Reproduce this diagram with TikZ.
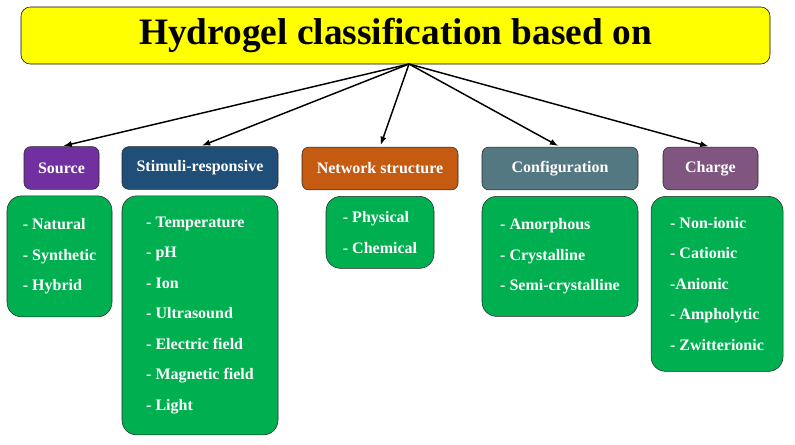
\documentclass[tikz,border=0pt]{standalone}
\usepackage{fontspec}
\setmainfont{Liberation Serif}
\usetikzlibrary{arrows.meta,positioning}
\definecolor{titleyellow}{RGB}{255,255,0}
\definecolor{listgreen}{RGB}{0,176,80}
\definecolor{srcpurple}{RGB}{112,48,160}
\definecolor{stimblue}{RGB}{31,78,121}
\definecolor{netorange}{RGB}{197,90,17}
\definecolor{confslate}{RGB}{84,120,130}
\definecolor{chgmauve}{RGB}{128,86,128}
\tikzset{
  tblock/.style={
    rectangle, draw=black, fill=titleyellow, rounded corners=7pt,
    minimum width=561.75pt, minimum height=42.75pt,
    font=\fontsize{28}{32}\selectfont\bfseries
  },
  hblock/.style={
    rectangle, draw=black!85, rounded corners=5pt, minimum height=32pt,
    text=white, font=\fontsize{12}{14}\selectfont\bfseries
  },
  lblock/.style={
    rectangle, draw=black!85, fill=listgreen, rounded corners=11pt,
    align=left, text=white, font=\fontsize{12}{22.9}\selectfont\bfseries
  },
  harrow/.style={draw=black, -{Latex[length=2.2mm]}, line width=1.1pt, shorten >=1.5pt}
}

\begin{document}
\begin{tikzpicture}[x=0.75pt,y=-0.75pt,node distance=4.5pt]
  \useasboundingbox (0,0) rectangle (795,444);
  % Titulo
  \node[tblock] (title) at (395.5,35.5) {Hydrogel classification based on};
  \coordinate (hub) at (409,64);
  % Cabeceras
  \node[hblock, fill=srcpurple, minimum width=56.25pt] (src)  at (61.5,168)  {Source};
  \node[hblock, fill=stimblue,  minimum width=117pt]   (stim) at (200,168)   {Stimuli-responsive};
  \node[hblock, fill=netorange, minimum width=117pt]   (net)  at (380,168.5) {Network structure};
  \node[hblock, fill=confslate, minimum width=117pt]   (conf) at (560,168.5) {Configuration};
  \node[hblock, fill=chgmauve,  minimum width=71.25pt] (chg)  at (710.5,168.5) {Charge};
  % Listas
  \node[lblock, below=of src, xshift=-1.5pt, minimum width=78.75pt, minimum height=90.75pt]
                                                   (srclist)  {- Natural\\- Synthetic\\- Hybrid};
  \node[lblock, below=of stim, minimum width=117pt, minimum height=179.25pt]
                                                   (stimlist) {- Temperature\\- pH\\- Ion\\- Ultrasound\\- Electric field\\- Magnetic field\\- Light};
  \node[lblock, below=of net, minimum width=81pt, minimum height=54pt]
                                                   (netlist)  {- Physical\\- Chemical};
  \node[lblock, below=of conf, minimum width=117pt, minimum height=90pt]
                                                   (conflist) {- Amorphous\\- Crystalline\\- Semi-crystalline};
  \node[lblock, below=of chg, xshift=4.9pt, minimum width=99pt, minimum height=131.25pt]
                                                   (chglist)  {- Non-ionic\\- Cationic\\-Anionic\\- Ampholytic\\- Zwitterionic};
  % Flechas
  \foreach \h in {src,stim,net,conf,chg}
    \draw[harrow] (hub) -- (\h.north);
\end{tikzpicture}
\end{document}
